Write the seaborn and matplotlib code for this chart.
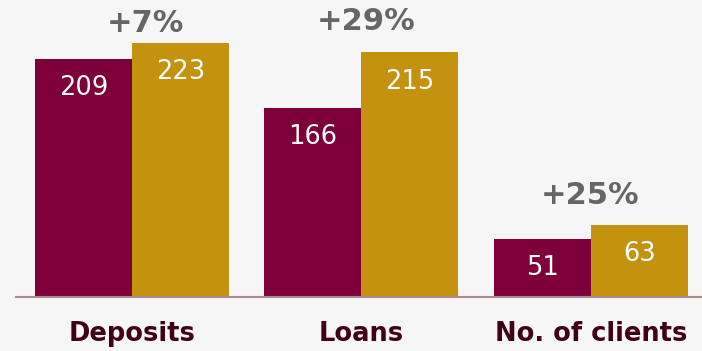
import matplotlib
matplotlib.use("Agg")
import matplotlib.pyplot as plt
import seaborn as sns
import pandas as pd

# Chart data
categories = ["Deposits", "Loans", "No. of clients"]
prev_values = [209, 166, 51]
curr_values = [223, 215, 63]
growth_labels = ["+7%", "+29%", "+25%"]
series_names = ["Previous", "Current"]

df = pd.DataFrame({
    "category": categories * 2,
    "series": [series_names[0]] * 3 + [series_names[1]] * 3,
    "value": prev_values + curr_values,
})

maroon = "#7D003A"
gold = "#C4920E"
bg = "#F7F6F6"

sns.set_theme(style="white")
plt.rcParams["font.family"] = ["DejaVu Sans"]

fig = plt.figure(figsize=(7.02, 3.51), dpi=100, facecolor=bg)
ax = fig.add_axes([16 / 702, 1 - 297 / 351, 1 - 16 / 702, 297 / 351])
ax.set_facecolor(bg)

sns.barplot(data=df, x="category", y="value", hue="series",
            palette=[maroon, gold], width=0.845, dodge=True,
            saturation=1, linewidth=0, ax=ax, legend=False)

ax.set_xlim(-0.505, 2.484)
ax.set_ylim(0, 261)

# Value labels inside the bars
for container in ax.containers:
    for bar in container:
        h = bar.get_height()
        ax.annotate(f"{h:.0f}", (bar.get_x() + bar.get_width() / 2, h),
                    xytext=(0, -21), textcoords="offset points",
                    ha="center", va="center", color="white", fontsize=18.5)

# Growth labels above each pair
offsets = [14, 22.5, 21.5]
shifts = [0.06, 0.02, -0.005]
for i, lab in enumerate(growth_labels):
    top = max(prev_values[i], curr_values[i])
    ax.annotate(lab, (i + shifts[i], top), xytext=(0, offsets[i]),
                textcoords="offset points", ha="center", va="center",
                color="#666666", fontsize=22, fontweight="bold")

ax.set_xlabel("")
ax.set_ylabel("")
ax.set_yticks([])
ax.tick_params(axis="x", length=0, pad=17)
for t in ax.get_xticklabels():
    t.set_fontsize(18.5)
    t.set_fontweight("bold")
    t.set_color("#3F0018")

for s in ["top", "right", "left"]:
    ax.spines[s].set_visible(False)
ax.spines["bottom"].set_color("#B08890")
ax.spines["bottom"].set_linewidth(1.5)

fig.savefig("out.png", dpi=100, facecolor=bg)
